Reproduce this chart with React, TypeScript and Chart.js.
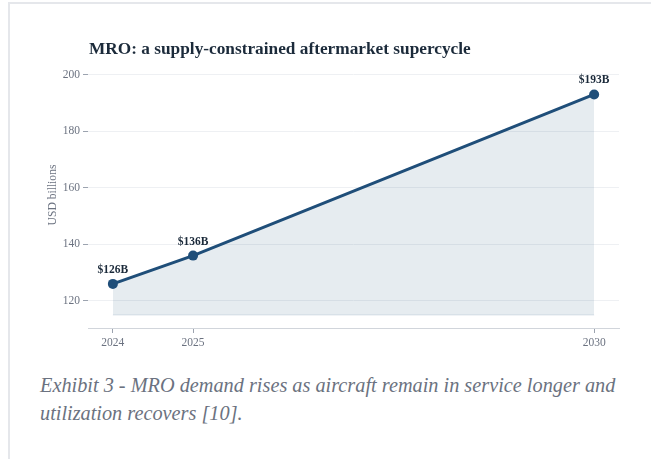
import React, { useEffect, useRef } from "react";
import { Chart, registerables } from "chart.js";

Chart.register(...registerables);

// Market size, USD billions
const years = [2024, 2025, 2030];
const values = [126, 136, 193];
const valueLabels = ["$126B", "$136B", "$193B"];
const yTicks = [120, 140, 160, 180, 200];
const fillFloor = 115;

const titleText = "MRO: a supply-constrained aftermarket supercycle";
const yTitleText = "USD billions";
const captionText =
  "Exhibit 3 - MRO demand rises as aircraft remain in service longer and utilization recovers [10].";

const SERIF = '"Liberation Serif", "Times New Roman", serif';
const LINE = "#1f4e79";
const INK = "#1b2a3a";
const MUTED = "#6b7280";

const decorations = {
  id: "decorations",
  afterDatasetsDraw(chart: any) {
    const { ctx } = chart;
    const meta = chart.getDatasetMeta(1);
    ctx.save();
    ctx.font = `bold 11.5px ${SERIF}`;
    ctx.fillStyle = INK;
    ctx.textAlign = "center";
    ctx.textBaseline = "alphabetic";
    meta.data.forEach((pt: any, i: number) => {
      ctx.fillText(valueLabels[i], pt.x, pt.y - 11);
    });
    ctx.restore();
  },
  afterDraw(chart: any) {
    const { ctx, chartArea } = chart;
    ctx.save();
    ctx.font = `bold 17.3px ${SERIF}`;
    ctx.fillStyle = INK;
    ctx.textAlign = "left";
    ctx.textBaseline = "alphabetic";
    ctx.fillText(titleText, chartArea.left + 1, 54);

    ctx.translate(53, 195);
    ctx.rotate(-Math.PI / 2);
    ctx.font = `11.6px ${SERIF}`;
    ctx.fillStyle = MUTED;
    ctx.textAlign = "center";
    ctx.textBaseline = "middle";
    ctx.fillText(yTitleText, 0, 0);
    ctx.restore();
  },
};

function MroChart() {
  const canvasRef = useRef<HTMLCanvasElement | null>(null);

  useEffect(() => {
    if (!canvasRef.current) return;
    const chart = new Chart(canvasRef.current, {
      type: "line",
      data: {
        datasets: [
          {
            data: [
              { x: years[0], y: fillFloor },
              { x: years[years.length - 1], y: fillFloor },
            ],
            borderColor: "rgba(31,78,121,0.13)",
            borderWidth: 1,
            pointRadius: 0,
            fill: false,
          },
          {
            data: years.map((x, i) => ({ x, y: values[i] })),
            borderColor: LINE,
            borderWidth: 3,
            pointRadius: 5,
            pointBackgroundColor: LINE,
            pointBorderColor: LINE,
            pointBorderWidth: 0,
            fill: { value: fillFloor },
            backgroundColor: "rgba(31,78,121,0.11)",
          },
        ],
      },
      options: {
        responsive: false,
        animation: false,
        layout: { padding: { left: 0, right: 32, top: 69, bottom: 0 } },
        plugins: {
          legend: { display: false },
          title: { display: false },
          tooltip: { enabled: false },
        },
        scales: {
          x: {
            type: "linear",
            min: 2023.69,
            max: 2030.31,
            afterBuildTicks: (scale: any) => {
              scale.ticks = years.map((v) => ({ value: v }));
            },
            afterFit: (scale: any) => {
              scale.height = 42;
            },
            ticks: {
              font: { family: SERIF, size: 11.5 },
              color: MUTED,
              padding: 3,
              maxRotation: 0,
              callback: (v: any) => String(v),
            },
            grid: {
              drawOnChartArea: false,
              drawTicks: true,
              tickLength: 5,
              tickColor: "#9ca3af",
            },
            border: { display: true, color: "#d1d5db", width: 1 },
          },
          y: {
            type: "linear",
            min: 110.4,
            max: 202,
            afterBuildTicks: (scale: any) => {
              scale.ticks = yTicks.map((v) => ({ value: v }));
            },
            afterFit: (scale: any) => {
              scale.width = 88;
            },
            ticks: {
              font: { family: SERIF, size: 11.5 },
              color: MUTED,
              padding: 3,
            },
            grid: {
              color: "#eef0f3",
              lineWidth: 1,
              drawTicks: true,
              tickLength: 5,
              tickColor: "#9ca3af",
            },
            border: { display: false },
          },
        },
      },
      plugins: [decorations],
    } as any);
    return () => chart.destroy();
  }, []);

  return (
    <canvas
      ref={canvasRef}
      width={651}
      height={370}
      style={{ position: "absolute", left: 0, top: 0, width: 651, height: 370 }}
    />
  );
}

export default function App() {
  return (
    <div
      style={{
        position: "fixed",
        left: 0,
        top: 0,
        width: 651,
        height: 459,
        background: "#ffffff",
        overflow: "hidden",
      }}
    >
      <div
        style={{
          position: "absolute",
          left: 8,
          top: 2,
          right: -10,
          bottom: -10,
          borderLeft: "2px solid #e5e7eb",
          borderTop: "2px solid #e5e7eb",
        }}
      />
      <MroChart />
      <div
        style={{
          position: "absolute",
          left: 40,
          top: 371,
          width: 600,
          fontFamily: SERIF,
          fontStyle: "italic",
          fontSize: 20.3,
          lineHeight: "28px",
          color: MUTED,
        }}
      >
        {captionText}
      </div>
    </div>
  );
}
